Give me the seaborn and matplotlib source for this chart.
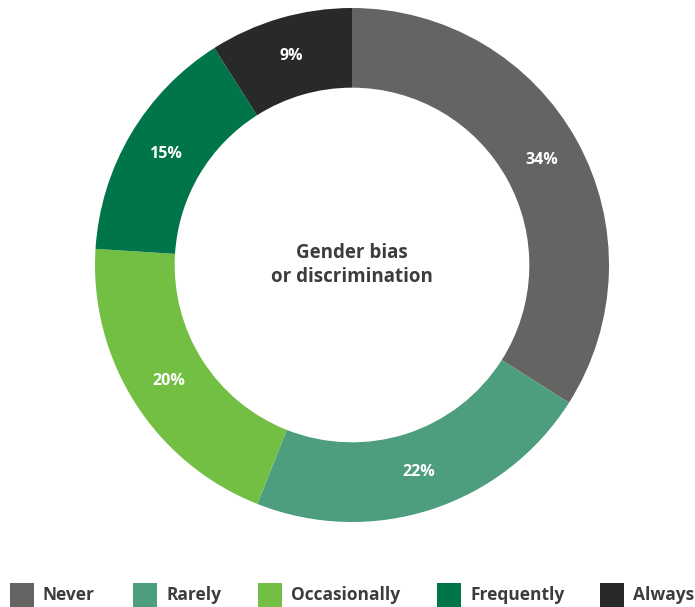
import matplotlib
matplotlib.use("Agg")
import matplotlib.pyplot as plt
import matplotlib.patches as mpatches
import seaborn as sns

categories = ["Never", "Rarely", "Occasionally", "Frequently", "Always"]
values = [34, 22, 20, 15, 9]
colors = ["#666462", "#4d9e7e", "#72bf44", "#00754a", "#282a29"]
center_title = "Gender bias\nor discrimination"

sns.set_theme(style="white")
plt.rcParams["font.family"] = ["Open Sans", "DejaVu Sans"]

W, H = 695, 607
fig = plt.figure(figsize=(W / 100, H / 100), dpi=100)
fig.patch.set_facecolor("white")

# donut axes placed in pixel terms: centre (352, 265), radius 257
cx, cy, r = 352, 265, 257
ax = fig.add_axes([(cx - r) / W, (H - cy - r) / H, 2 * r / W, 2 * r / H])
wedges, _, autotexts = ax.pie(
    values,
    colors=sns.color_palette(colors),
    startangle=90,
    counterclock=False,
    radius=1.0,
    autopct=lambda p: f"{p:.0f}%",
    pctdistance=0.845,
    wedgeprops=dict(width=0.31, edgecolor="none"),
)
for t in autotexts:
    t.set_color("white")
    t.set_fontsize(11.5)
    t.set_fontweight("bold")
ax.set_xlim(-1, 1)
ax.set_ylim(-1, 1)
ax.set_aspect("equal")
ax.axis("off")

ax.text(0, 0, center_title, ha="center", va="center", fontsize=13.5,
        fontweight="bold", color="#3c3c3c", linespacing=1.3)

# legend row along the bottom
sq_x = [10, 133, 258, 437, 600]
sq = 24
ly = 595
for x, lab, col in zip(sq_x, categories, colors):
    fig.patches.append(mpatches.Rectangle(
        (x / W, (H - ly - sq / 2) / H), sq / W, sq / H,
        transform=fig.transFigure, facecolor=col, edgecolor="none"))
    fig.text((x + sq + 9) / W, (H - ly) / H, lab, ha="left", va="center",
             fontsize=12.5, fontweight="bold", color="#3c3c3c")

fig.savefig("out.png", dpi=100, facecolor="white")
